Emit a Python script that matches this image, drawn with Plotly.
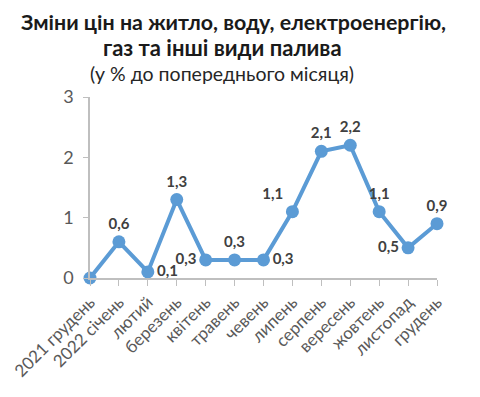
import plotly.graph_objects as go

categories = ["2021 грудень", "2022 січень", "лютий", "березень", "квітень", "травень",
              "чевень", "липень", "серпень", "вересень", "жовтень", "листопад", "грудень"]
values = [0, 0.6, 0.1, 1.3, 0.3, 0.3, 0.3, 1.1, 2.1, 2.2, 1.1, 0.5, 0.9]
label_pos = ["top center", "top center", "middle right", "top center", "middle left",
             "top center", "middle right", "top left", "top center", "top center",
             "top center", "middle left", "top center"]

labels = ["" if v == 0 else f"{v:.1f}".replace(".", ",") for v in values]
xs = list(range(len(categories)))

fig = go.Figure()
fig.add_trace(go.Scatter(
    x=xs, y=values, mode="lines+markers+text",
    line=dict(color="#5B9BD5", width=4),
    marker=dict(color="#5B9BD5", size=13),
    text=labels, textposition=label_pos,
    textfont=dict(family="Lato", size=15, color="#404040", weight="bold"),
    cliponaxis=False, showlegend=False,
))

def ann(text, xshift, yshift, size, bold=False, color="#1a1a1a"):
    return dict(text=f"<b>{text}</b>" if bold else text,
                x=0, y=1, xref="paper", yref="paper", xanchor="center", yanchor="middle",
                xshift=xshift, yshift=yshift, showarrow=False,
                font=dict(family="Lato", size=size, color=color))

fig.update_layout(
    width=472, height=389,
    margin=dict(l=82, r=43, t=89, b=119),
    paper_bgcolor="white", plot_bgcolor="white",
    font=dict(family="Lato"),
    annotations=[
        ann("Зміни цін на житло, воду, електроенергію,", 143, 75, 21.4, bold=True),
        ann("газ та інші види палива", 132, 50, 22, bold=True),
        ann("(у % до попереднього місяця)", 132, 24, 19.5, color="#262626"),
    ],
)
fig.update_xaxes(
    range=[0, 12], tickmode="array", tickvals=xs, ticktext=categories,
    tickangle=-45, showline=True, linecolor="#BFBFBF", linewidth=1.5, automargin=False,
    ticks="outside", ticklen=6, tickcolor="#BFBFBF", showgrid=False, zeroline=False,
    tickfont=dict(family="Lato", size=17, color="#595959"),
)
fig.update_yaxes(
    range=[0, 3], tickvals=[0, 1, 2, 3], showline=True, linecolor="#BFBFBF", linewidth=1.5,
    automargin=False, ticklabelstandoff=6,
    ticks="outside", ticklen=5, tickcolor="#BFBFBF", showgrid=False, zeroline=False,
    tickfont=dict(family="Lato", size=18, color="#595959"),
)

fig.write_html("out.html")
